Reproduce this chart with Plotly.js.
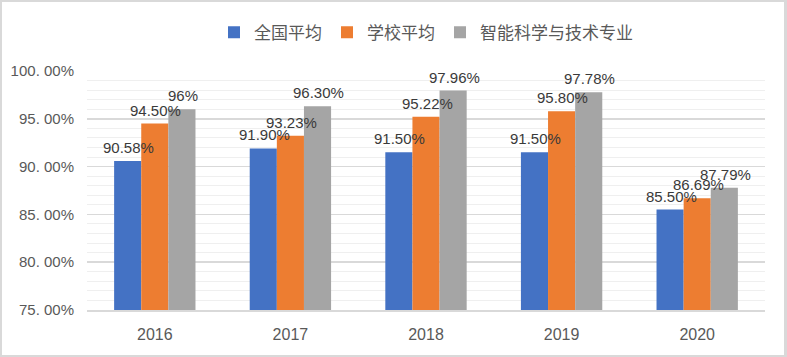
<!DOCTYPE html>
<html>
<head>
<meta charset="utf-8">
<script src="https://cdn.plot.ly/plotly-3.0.1.min.js"></script>
<style>
html,body{margin:0;padding:0;background:#fff;}
#wrap{position:absolute;left:0;top:0;width:787px;height:357px;box-sizing:border-box;border:2px solid #d9d9d9;border-right-width:3px;overflow:hidden;}
#chart{position:absolute;left:-2px;top:-2px;width:787px;height:357px;}
</style>
</head>
<body>
<div id="wrap"><div id="chart"></div></div>
<script>
const years = ['2016', '2017', '2018', '2019', '2020'];
const seriesNames = ['全国平均', '学校平均', '智能科学与技术专业'];
const nationalAvg = [90.58, 91.90, 91.50, 91.50, 85.50];
const schoolAvg = [94.50, 93.23, 95.22, 95.80, 86.69];
const majorAvg = [96.00, 96.30, 97.96, 97.78, 87.79];
const nationalLabels = ['90.58%', '91.90%', '91.50%', '91.50%', '85.50%'];
const schoolLabels = ['94.50%', '93.23%', '95.22%', '95.80%', '86.69%'];
const majorLabels = ['96%', '96.30%', '97.96%', '97.78%', '87.79%'];
const yTickVals = [75, 80, 85, 90, 95, 100];
const yTickText = ['75. 00%', '80. 00%', '85. 00%', '90. 00%', '95. 00%', '100. 00%'];
const colors = ['#4472C4', '#ED7D31', '#A5A5A5'];

const W = 787, H = 357;
const margin = {l: 87, r: 22, t: 71, b: 47};
const bargap = 0.4;
const catWidth = (W - margin.l - margin.r) / years.length;
const barWidth = catWidth * (1 - bargap) / 3;

const labelFont = {family: '"Liberation Sans Narrow", "Arial Narrow", "Liberation Sans", Arial, sans-serif', size: 15, color: '#3a3a3a'};

const seriesVals = [nationalAvg, schoolAvg, majorAvg];
const seriesLabels = [nationalLabels, schoolLabels, majorLabels];

const data = seriesVals.map((vals, i) => ({
  type: 'bar', name: seriesNames[i], x: years, y: vals,
  marker: {color: colors[i], line: {width: 0}},
  hoverinfo: 'skip'
}));

const annotations = [];
seriesVals.forEach((vals, i) => {
  vals.forEach((v, j) => {
    annotations.push({
      x: j, y: v, xref: 'x', yref: 'y',
      text: seriesLabels[i][j], showarrow: false,
      xanchor: 'center', yanchor: 'bottom',
      xshift: (i - 1) * barWidth + 1, yshift: 3,
      font: labelFont
    });
  });
});

const layout = {
  width: W, height: H,
  margin: margin,
  paper_bgcolor: '#ffffff', plot_bgcolor: '#ffffff',
  barmode: 'group', bargap: bargap, bargroupgap: 0,
  showlegend: true,
  legend: {
    orientation: 'h', x: 0.5, xanchor: 'center', y: 1.16, yanchor: 'middle',
    font: {family: '"Noto Sans CJK SC", sans-serif', size: 17, color: '#595959'},
    itemwidth: 30, tracegroupgap: 0
  },
  annotations: annotations,
  xaxis: {
    type: 'category', categoryarray: years, range: [-0.5, years.length - 0.5],
    showgrid: false, zeroline: false,
    showline: true, linecolor: '#d9d9d9', linewidth: 1.5,
    tickfont: {family: '"Liberation Sans", Arial, sans-serif', size: 16, color: '#595959'},
    ticks: '', ticklabelstandoff: 9
  },
  yaxis: {
    range: [75, 100], tickvals: yTickVals, ticktext: yTickText,
    showgrid: true, gridcolor: '#d9d9d9', gridwidth: 1.5, zeroline: false,
    showline: false,
    tickfont: {family: '"Liberation Sans", Arial, sans-serif', size: 15, color: '#595959'},
    ticklabelstandoff: 12,
    minor: {dtick: 1, tick0: 75, showgrid: true, gridcolor: '#efefef', gridwidth: 1}
  },
  font: {family: '"Liberation Sans", Arial, sans-serif'}
};

Plotly.newPlot('chart', data, layout, {staticPlot: true, displayModeBar: false});
</script>
</body>
</html>
